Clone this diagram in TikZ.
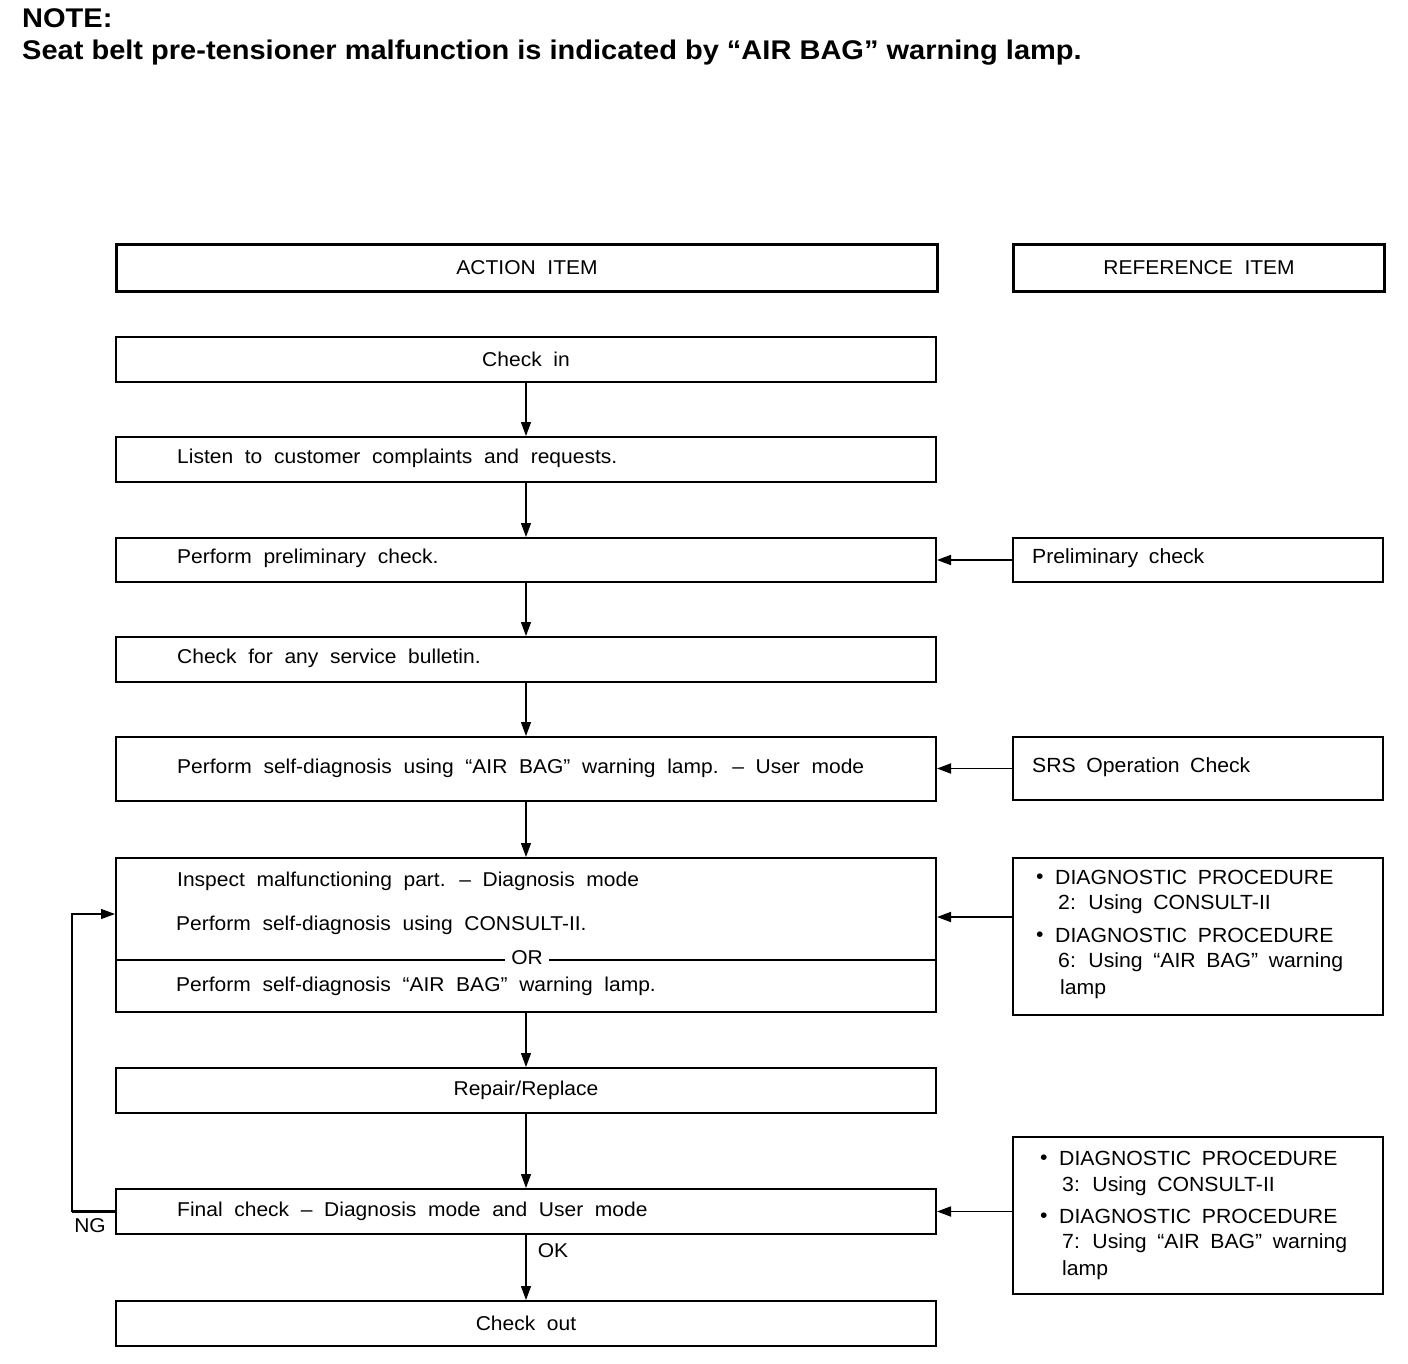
\documentclass[tikz,border=0pt]{standalone}
\usepackage{fontspec}
\setmainfont{Liberation Sans}
\newfontfamily\bodyfont[WordSpace=2.0, FakeStretch=1.05]{Liberation Sans}
\newfontfamily\reffont[WordSpace=1.8, FakeStretch=1.035]{Liberation Sans}
\newfontfamily\titlefont[FakeStretch=1.075]{Liberation Sans}
\usetikzlibrary{arrows.meta}
\begin{document}
\begin{tikzpicture}[x=1pt,y=-1pt,
  hdr/.style={draw, line width=3pt, anchor=north west, minimum height=47pt, inner sep=0pt,
    font=\bodyfont\fontsize{20}{24}\selectfont},
  lbox/.style={draw, line width=2pt, anchor=north west, inner sep=0pt, minimum width=820pt,
    font=\bodyfont\fontsize{20}{24}\selectfont},
  rbox/.style={draw, line width=2pt, anchor=north west, inner sep=0pt, minimum width=370pt},
  ltxt/.style={anchor=west, inner sep=0pt, font=\bodyfont\fontsize{20}{24}\selectfont},
  rtxt/.style={anchor=west, inner sep=0pt, font=\reffont\fontsize{20.5}{24}\selectfont},
  varr/.style={line width=1.2pt, -{Triangle[length=14pt,width=10pt]}},
  harr/.style={line width=1.8pt, -{Triangle[length=14pt,width=10pt]}},
]
\useasboundingbox (0,0) rectangle (1408,1364);

% title
\node[anchor=base west, inner sep=0pt, font=\titlefont\bfseries\fontsize{27}{30}\selectfont] (note) at (22,28) {NOTE:};
\node[anchor=base west, inner sep=0pt, font=\titlefont\bfseries\fontsize{27}{30}\selectfont] (notetxt) at (22,60)
  {Seat belt pre-tensioner malfunction is indicated by “AIR BAG” warning lamp.};

% headers
\node[hdr, minimum width=821pt] (ahead) at (115,243) {ACTION ITEM};
\node[hdr, minimum width=371pt] (rhead) at (1012,243) {REFERENCE ITEM};

% action boxes
\node[lbox, minimum height=45pt] (cin) at (115,336) {Check in};
\node[lbox, minimum height=45pt] (listen) at (115,436) {};
\node[ltxt] (listent) at (177,458) {Listen to customer complaints and requests.};
\node[lbox, minimum height=44pt] (prelim) at (115,537) {};
\node[ltxt] (prelimt) at (177,558) {Perform preliminary check.};
\node[lbox, minimum height=45pt] (bull) at (115,636) {};
\node[ltxt] (bullt) at (177,658) {Check for any service bulletin.};
\node[lbox, minimum height=64pt] (selfd) at (115,736) {};
\node[ltxt] (selfdt) at (177,768) {Perform self-diagnosis using “AIR BAG” warning lamp. – User mode};
\node[lbox, minimum height=154pt] (insp) at (115,857) {};
\node[ltxt] (insp1) at (177,881) {Inspect malfunctioning part. – Diagnosis mode};
\node[ltxt] (insp2) at (176,925) {Perform self-diagnosis using CONSULT-II.};
\node[ltxt] (insp3) at (176,986) {Perform self-diagnosis “AIR BAG” warning lamp.};
\draw[line width=1.5pt] (insp.west |- 0,960) -- (insp.east |- 0,960);
\node[fill=white, inner xsep=6pt, inner ysep=1pt, font=\bodyfont\fontsize{20}{24}\selectfont] (or) at (527,958) {OR};
\node[lbox, minimum height=45pt] (rep) at (115,1067) {Repair/Replace};
\node[lbox, minimum height=45pt] (fin) at (115,1188) {};
\node[ltxt] (fint) at (177,1211) {Final check – Diagnosis mode and User mode};
\node[lbox, minimum height=45pt] (cout) at (115,1300) {Check out};

% reference boxes
\node[rbox, minimum height=44pt] (rprel) at (1012,537) {};
\node[rtxt] (rprelt) at (1032,558) {Preliminary check};
\node[rbox, minimum height=63pt] (rsrs) at (1012,736) {};
\node[rtxt] (rsrst) at (1032,767) {SRS Operation Check};
\node[rbox, minimum height=157pt] (rd1) at (1012,857) {};
\node[rtxt] (d1a) at (1036,879) {•};
\node[rtxt] (d1b) at (1055,877) {DIAGNOSTIC PROCEDURE};
\node[rtxt] (d1c) at (1058,904) {2: Using CONSULT-II};
\node[rtxt] (d1d) at (1036,937) {•};
\node[rtxt] (d1e) at (1055,935) {DIAGNOSTIC PROCEDURE};
\node[rtxt] (d1f) at (1058,962) {6: Using “AIR BAG” warning};
\node[rtxt] (d1g) at (1060,989) {lamp};
\node[rbox, minimum height=157pt] (rd2) at (1012,1136) {};
\node[rtxt] (d2a) at (1040,1160) {•};
\node[rtxt] (d2b) at (1059,1158) {DIAGNOSTIC PROCEDURE};
\node[rtxt] (d2c) at (1062,1186) {3: Using CONSULT-II};
\node[rtxt] (d2d) at (1040,1218) {•};
\node[rtxt] (d2e) at (1059,1216) {DIAGNOSTIC PROCEDURE};
\node[rtxt] (d2f) at (1062,1243) {7: Using “AIR BAG” warning};
\node[rtxt] (d2g) at (1062,1270) {lamp};

% vertical flow
\draw[varr] (cin.south) -- (listen.north);
\draw[varr] (listen.south) -- (prelim.north);
\draw[varr] (prelim.south) -- (bull.north);
\draw[varr] (bull.south) -- (selfd.north);
\draw[varr] (selfd.south) -- (insp.north);
\draw[varr] (insp.south) -- (rep.north);
\draw[varr] (rep.south) -- (fin.north);
\draw[varr] (fin.south) -- (cout.north);

% reference arrows
\draw[harr] (rprel.west) -- (rprel.west -| prelim.east);
\draw[harr] (rsrs.west) -- (rsrs.west -| selfd.east);
\draw[harr] (rd1.west |- 0,917) -- (insp.east |- 0,917);
\draw[harr] (rd2.west |- fin.east) -- (fin.east);

% NG loop
\draw[line width=3pt] (fin.west) -- ++(-43,0) coordinate (ng);
\draw[varr] (ng) |- (insp.west |- 0,914);
\node[font=\bodyfont\fontsize{20}{24}\selectfont, inner sep=0pt] (nglbl) at (90,1226) {NG};
\node[font=\bodyfont\fontsize{20}{24}\selectfont, inner sep=0pt] (oklbl) at (553,1251) {OK};
\end{tikzpicture}
\end{document}
